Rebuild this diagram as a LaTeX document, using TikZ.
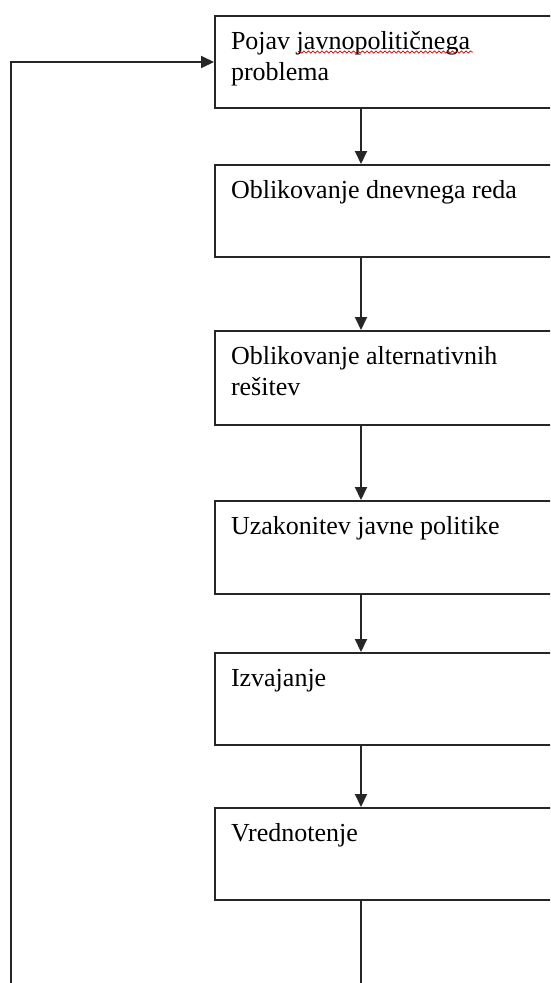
\documentclass[tikz,border=0pt]{standalone}
\usepackage{fontspec}
\setmainfont{Liberation Serif}
\usetikzlibrary{arrows.meta,calc,decorations.pathmorphing}
\tikzset{
  stage/.style={draw=black!85, line width=2pt, rectangle, anchor=north west,
    inner xsep=16pt, inner ysep=0pt, font=\fontsize{26pt}{31pt}\selectfont},
  flow/.style={draw=black!85, line width=2pt, -{Triangle[length=13pt,width=12pt]}},
  spell/.style={draw=red!85!black, line width=0.7pt,
    decorate, decoration={snake, amplitude=1.1pt, segment length=4.5pt}}
}
\newcommand{\stagetext}[2]{\parbox[t][#1pt][t]{380pt}{\rule{0pt}{33pt}#2}}
\begin{document}
\begin{tikzpicture}[x=1pt,y=-1pt]
\useasboundingbox (0,0) rectangle (550,983);
\clip (0,0) rectangle (550,983);
\node[stage] (b1) at (214,15)  {\stagetext{92}{Pojav javnopolitičnega\\problema}};
\node[stage] (b2) at (214,164) {\stagetext{92}{Oblikovanje dnevnega reda}};
\node[stage] (b3) at (214,330) {\stagetext{94}{Oblikovanje alternativnih\\rešitev}};
\node[stage] (b4) at (214,500) {\stagetext{93}{Uzakonitev javne politike}};
\node[stage] (b5) at (214,652) {\stagetext{92}{Izvajanje}};
\node[stage] (b6) at (214,807) {\stagetext{92}{Vrednotenje}};
\coordinate (lb) at (11,1030);
\draw[flow] ([xshift=147pt]b1.south west) -- ([xshift=147pt]b2.north west);
\draw[flow] ([xshift=147pt]b2.south west) -- ([xshift=147pt]b3.north west);
\draw[flow] ([xshift=147pt]b3.south west) -- ([xshift=147pt]b4.north west);
\draw[flow] ([xshift=147pt]b4.south west) -- ([xshift=147pt]b5.north west);
\draw[flow] ([xshift=147pt]b5.south west) -- ([xshift=147pt]b6.north west);
\draw[flow] ([xshift=147pt]b6.south west) |- (lb) |- (b1.west);
\draw[spell] ([shift={(84pt,-37pt)}]b1.north west) -- ++(175,0);
\end{tikzpicture}
\end{document}
